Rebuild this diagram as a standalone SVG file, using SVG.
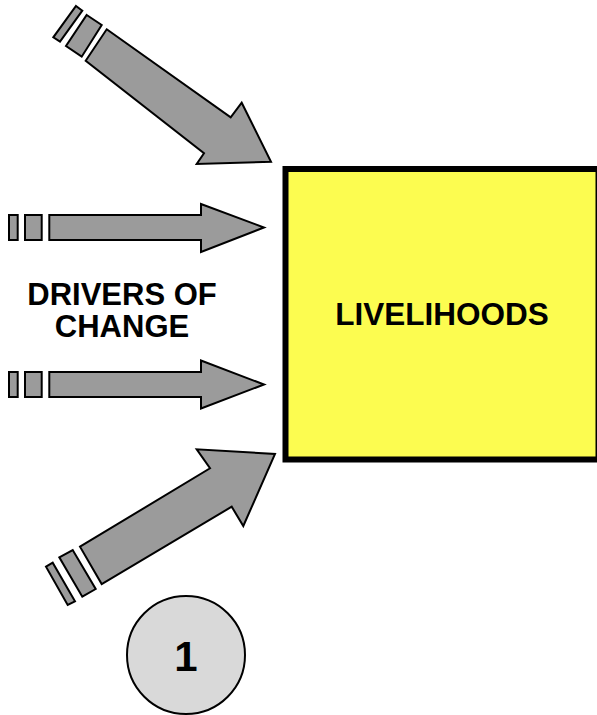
<svg xmlns="http://www.w3.org/2000/svg" width="597" height="715" viewBox="0 0 597 715">
<style>
.arr{fill:#9b9b9b;stroke:#000;stroke-width:2;stroke-linejoin:miter}
.lbl{font-family:"Liberation Sans",Arial,sans-serif;font-weight:bold;fill:#000;text-anchor:middle}
</style>
<rect width="597" height="715" fill="#fff"/>
<g id="connectors">
<g id="arrow-top">
<polygon class="arr" points="76,6 82.3,10.7 60,41.7 53.3,37.3"/>
<polygon class="arr" points="86.7,15 101.7,25 81.7,56.7 66,46"/>
<polygon class="arr" points="106.7,29.3 230.7,117.3 241.7,102.7 271,161.7 196.7,164 204,153.3 85.7,60.7"/>
</g>
<g id="arrow-mid1">
<rect class="arr" x="9" y="215" width="8.7" height="25"/>
<rect class="arr" x="25" y="215" width="16.7" height="25"/>
<polygon class="arr" points="49.3,215 201,215 201,204 264,227.5 201,252 201,240 49.3,240"/>
</g>
<g id="arrow-mid2">
<rect class="arr" x="9" y="372" width="8.7" height="25"/>
<rect class="arr" x="25" y="372" width="16.7" height="25"/>
<polygon class="arr" points="49.3,372 201,372 201,360.5 264,384.5 201,408.5 201,397 49.3,397"/>
</g>
<g id="arrow-bottom">
<polygon class="arr" points="46,566.7 52.7,562.7 75,601.3 67.7,605"/>
<polygon class="arr" points="59.3,557.3 72.7,550 95.7,589 82.3,596.7"/>
<polygon class="arr" points="80,546.7 210,468.3 196.7,449.3 275,454 243.3,526 231.7,506.7 101.7,584"/>
</g>
</g>
<g id="livelihoods">
<rect x="285.5" y="169" width="313" height="290.5" fill="#fcfc50" stroke="#000" stroke-width="6"/>
<text class="lbl" x="442" y="325" font-size="31.5">LIVELIHOODS</text>
</g>
<g id="drivers">
<text class="lbl" x="122" y="305" font-size="31">DRIVERS OF</text>
<text class="lbl" x="122" y="337" font-size="31">CHANGE</text>
</g>
<g id="badge">
<circle cx="186" cy="655" r="59" fill="#d9d9d9" stroke="#000" stroke-width="2"/>
<text class="lbl" x="186" y="671" font-size="42">1</text>
</g>
</svg>
